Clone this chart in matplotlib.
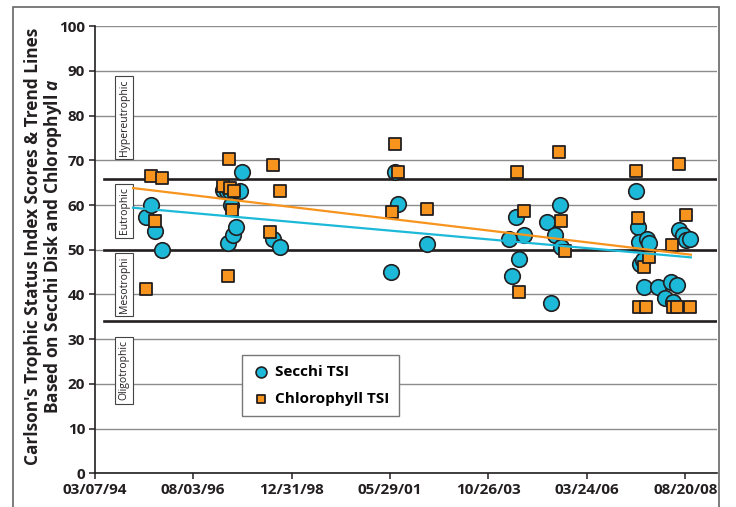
import matplotlib
matplotlib.use('Agg')
import matplotlib.pyplot as plt
import matplotlib.dates as mdates
import pandas as pd
from matplotlib.patches import Rectangle

# Secchi disk TSI samples
secchi_dates = ['1995-06-06', '1995-07-21', '1995-08-28', '1995-10-30',
                '1997-05-01', '1997-05-31', '1997-06-14', '1997-06-30', '1997-07-06',
                '1997-07-29', '1997-08-23', '1997-09-27', '1997-10-15', '1998-07-22',
                '1998-09-20',
                '2001-06-10', '2001-07-09', '2001-08-11', '2002-04-29',
                '2004-04-25', '2004-05-25', '2004-06-27', '2004-07-27', '2004-09-07',
                '2005-04-03', '2005-05-03', '2005-06-10', '2005-07-24', '2005-08-08',
                '2007-06-05', '2007-06-26', '2007-07-02', '2007-07-08', '2007-08-04',
                '2007-08-13', '2007-09-12', '2007-10-02', '2007-12-22', '2008-02-23',
                '2008-04-13', '2008-05-04', '2008-06-06', '2008-06-27', '2008-07-27',
                '2008-08-25', '2008-09-30']
secchi_tsi = [57.3, 60.0, 54.1, 50.0,
              63.3, 63.2, 51.5, 63.2, 60.1,
              53.2, 55.1, 63.2, 67.3, 52.3,
              50.6,
              45.0, 67.4, 60.2, 51.4,
              52.3, 44.1, 57.3, 48.0, 53.2,
              56.2, 38.2, 53.2, 60.0, 50.6,
              63.1, 55.1, 51.7, 46.9, 47.7,
              41.7, 52.5, 51.5, 41.7, 39.2,
              42.8, 38.3, 42.2, 54.4, 53.2,
              52.1, 52.5]

# chlorophyll a TSI samples
chl_dates = ['1995-06-06', '1995-07-21', '1995-08-28', '1995-10-30',
             '1997-05-01', '1997-06-14', '1997-06-23', '1997-06-30', '1997-07-20',
             '1997-08-07', '1998-06-23', '1998-07-22', '1998-09-20',
             '2001-06-13', '2001-07-12', '2001-08-11', '2002-04-27',
             '2004-07-03', '2004-07-27', '2004-09-09', '2005-07-18', '2005-08-08',
             '2005-09-07',
             '2007-06-05', '2007-06-23', '2007-07-05', '2007-08-13', '2007-09-03',
             '2007-10-02', '2008-04-20', '2008-04-29', '2008-06-06', '2008-06-27',
             '2008-08-25', '2008-09-30']
chl_tsi = [41.2, 66.6, 56.4, 66.0,
           64.3, 44.1, 70.2, 63.8, 58.8,
           63.2, 54.0, 68.9, 63.2,
           58.5, 73.6, 67.3, 59.1,
           67.3, 40.6, 58.6, 71.9, 56.4,
           49.7,
           67.6, 57.1, 37.2, 46.2, 37.2,
           48.4, 51.0, 37.2, 37.2, 69.1,
           57.7, 37.2]

trend_dates = ['1995-02-13', '2008-10-09']
secchi_trend = [59.4, 48.3]
chl_trend = [63.8, 48.9]

class_bounds = [65.8, 50, 34]
class_names = ['Hypereutrophic', 'Eutrophic', 'Mesotrophi', 'Oligotrophic']
class_label_y = [79.6, 58.7, 42.2, 23.0]

tick_dates = ['1994-03-07', '1996-08-03', '1998-12-31', '2001-05-29',
              '2003-10-26', '2006-03-24', '2008-08-20']

blue = '#1cb9d8'
orange = '#f7941d'
ink = '#231f20'

plt.rcParams['font.family'] = ['Open Sans', 'DejaVu Sans']
plt.rcParams['font.weight'] = 'bold'
plt.rcParams['mathtext.fontset'] = 'custom'
plt.rcParams['mathtext.it'] = 'Open Sans:italic:bold'

fig = plt.figure(figsize=(7.36, 5.07), dpi=100)
fig.patches.append(Rectangle((13 / 736, -0.05), (719 - 13) / 736, 1.05 - 7 / 507,
                             transform=fig.transFigure, fill=False,
                             ec='#666666', lw=1.2))

ax = fig.add_axes([0.1287, 0.0665, 0.8457, 0.8817])
x_min = pd.Timestamp('1994-03-07')
x_max = pd.Timestamp('2009-06-01')
ax.set_xlim(x_min, x_max)
ax.set_ylim(0, 100)

for s in ['top', 'right']:
    ax.spines[s].set_visible(False)
ax.spines['left'].set_color(ink)
ax.spines['bottom'].set_color(ink)
ax.spines['left'].set_linewidth(1.2)
ax.spines['bottom'].set_linewidth(1.2)

ax.yaxis.grid(True, color='#8c8c8c', lw=1.0)
ax.set_axisbelow(True)
ax.set_yticks(range(0, 101, 10))

# class boundary lines
for b in class_bounds:
    ax.plot([pd.Timestamp('1994-05-29'), x_max], [b, b], color=ink, lw=1.9, zorder=2)

for name, y in zip(class_names, class_label_y):
    ax.text(pd.Timestamp('1994-11-24'), y, name, rotation=90, ha='center', va='center',
            fontsize=7.5, fontweight='normal', color=ink, zorder=2.5,
            bbox=dict(boxstyle='square,pad=0.35', fc='white', ec='#444444', lw=0.8))

ax.scatter(pd.to_datetime(secchi_dates), secchi_tsi, s=125, marker='o', c=blue,
           edgecolors=ink, linewidths=1.2, zorder=3, label='Secchi TSI')
ax.scatter(pd.to_datetime(chl_dates), chl_tsi, s=76, marker='s', c=orange,
           edgecolors=ink, linewidths=1.3, zorder=4, label='Chlorophyll TSI')

ax.plot(pd.to_datetime(trend_dates), chl_trend, color=orange, lw=1.6, zorder=5)
ax.plot(pd.to_datetime(trend_dates), secchi_trend, color=blue, lw=1.6, zorder=5)

ax.set_xticks(pd.to_datetime(tick_dates))
ax.xaxis.set_major_formatter(mdates.DateFormatter('%m/%d/%y'))
ax.tick_params(axis='both', direction='out', length=4, width=1.1, colors=ink,
               labelsize=11, pad=3)

leg = ax.legend(loc='upper left', bbox_to_anchor=(0.2367, 0.264), borderaxespad=0,
                markerscale=0.7, frameon=True, fancybox=False, framealpha=1,
                edgecolor='#777777', handletextpad=0.3, labelspacing=0.85,
                borderpad=0.65, handlelength=1.2, prop={'size': 11, 'weight': 'bold'})
leg.get_frame().set_linewidth(1.0)
leg.set_zorder(6)

fig.text(0.0595, 0.514,
         "Carlson's Trophic Status Index Scores & Trend Lines\n"
         "Based on Secchi Disk and Chlorophyll $a$",
         rotation=90, ha='center', va='center', fontsize=12.4, fontweight='bold',
         color=ink, linespacing=1.0, multialignment='center')

fig.savefig('out.png', dpi=100)
